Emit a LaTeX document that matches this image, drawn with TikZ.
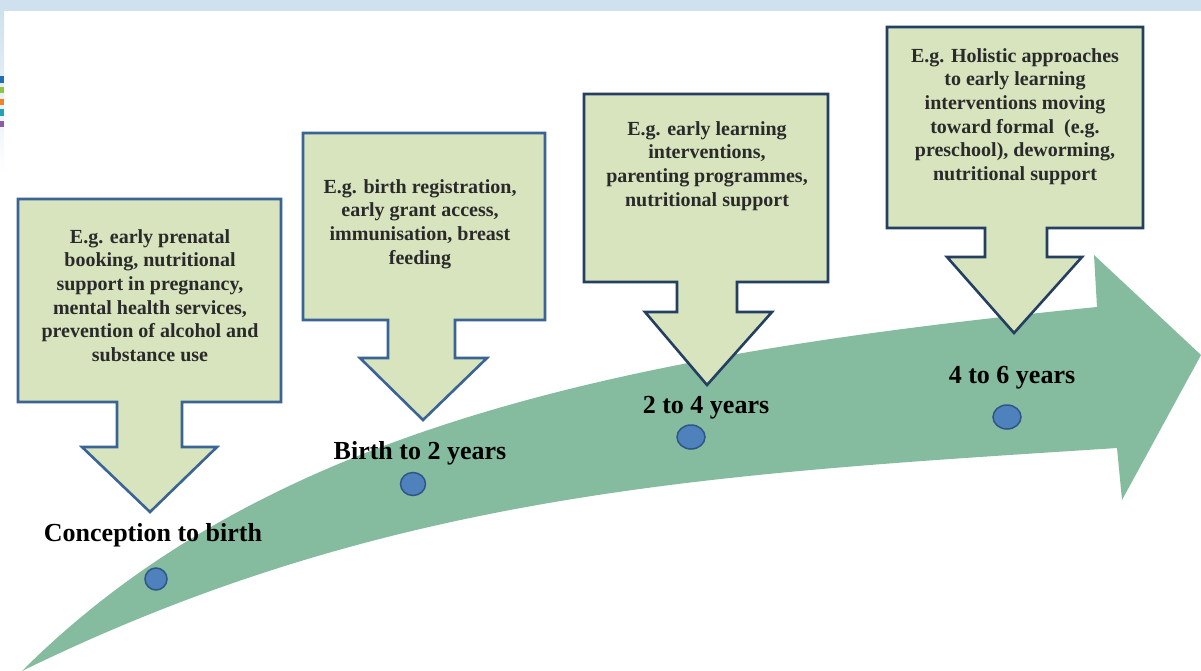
\documentclass[tikz,border=0pt]{standalone}
\usepackage{fontspec}
\setmainfont{Liberation Serif}
\definecolor{topband}{HTML}{CFE0EE}
\definecolor{boxfill}{HTML}{D7E4BD}
\definecolor{boxedge}{HTML}{3A6396}
\definecolor{boxedgedark}{HTML}{243F60}
\definecolor{arrowgreen}{HTML}{85BB9F}
\definecolor{dotfill}{HTML}{4F81BD}
\definecolor{dotedge}{HTML}{2E5686}
\definecolor{txtgray}{HTML}{2A2A2A}
\definecolor{barblue}{HTML}{1F6FB5}
\definecolor{bargreen}{HTML}{8DC63F}
\definecolor{barorange}{HTML}{F58220}
\definecolor{barteal}{HTML}{1FA3B8}
\definecolor{barpurple}{HTML}{8E5BA8}
\usetikzlibrary{shapes.geometric}
\tikzset{
  callout/.style={fill=boxfill, draw=boxedge, line width=2.6pt, line join=miter},
  calloutdark/.style={callout, draw=boxedgedark},
  boxtext/.style={anchor=north, inner sep=0pt, align=center, text=txtgray,
    font=\fontsize{20}{23.7}\selectfont\bfseries},
  agelabel/.style={anchor=base, inner sep=0pt, text=black,
    font=\fontsize{26}{30}\selectfont\bfseries},
  stagedot/.style={ellipse, fill=dotfill, draw=dotedge, line width=1.5pt, inner sep=0pt}
}
\begin{document}
\begin{tikzpicture}[x=1pt, y=-1pt]
\useasboundingbox (0,0) rectangle (1201,671);
\fill[white] (0,0) rectangle (1201,671);
% page decoration
\fill[topband] (0,0) rectangle (1201,11);
\shade[top color=topband, bottom color=white] (0,11) rectangle (4,175);
\fill[barblue] (0,76) rectangle (4,83);
\fill[bargreen] (0,87) rectangle (4,93);
\fill[barorange] (0,99) rectangle (4,105);
\fill[barteal] (0,109) rectangle (4,116);
\fill[barpurple] (0,121) rectangle (4,127);

% big green arrow
\fill[arrowgreen] (22,671) .. controls (272,421) and (647,352) .. (1097,307)
  -- (1094,255) -- (1201,355) -- (1122,500) -- (1117,448)
  .. controls (717,474) and (392,490) .. (22,671) -- cycle;

% callouts
\draw[callout] (18,199) -- (281,199) -- (281,402) -- (182,402) -- (182,447) -- (217,447) -- (150,512) -- (82,447) -- (117,447) -- (117,402) -- (18,402) -- cycle;
\draw[callout] (303,133) -- (545,133) -- (545,320) -- (455,320) -- (455,358) -- (487,358) -- (423,420) -- (360,358) -- (388,358) -- (388,320) -- (303,320) -- cycle;
\draw[calloutdark] (584,94) -- (828,94) -- (828,282) -- (737,282) -- (737,312) -- (772,312) -- (707,385) -- (645,312) -- (677,312) -- (677,282) -- (584,282) -- cycle;
\draw[calloutdark] (887,27) -- (1143,27) -- (1143,228) -- (1047,228) -- (1047,257) -- (1082,257) -- (1014,333) -- (947,257) -- (985,257) -- (985,228) -- (887,228) -- cycle;

% callout texts
\node[boxtext] (t1) at (150,229) {E.g. early prenatal\\booking, nutritional\\support in pregnancy,\\mental health services,\\prevention of alcohol and\\substance use};
\node[boxtext] (t2) at (420,179) {E.g. birth registration,\\early grant access,\\immunisation, breast\\feeding};
\node[boxtext] (t3) at (707,121) {E.g. early learning\\interventions,\\parenting programmes,\\nutritional support};
\node[boxtext] (t4) at (1015,48) {E.g. Holistic approaches\\to early learning\\interventions moving\\toward formal\ \ (e.g.\\preschool), deworming,\\nutritional support};

% stage labels
\node[agelabel] (l1) at (153,541) {Conception to birth};
\node[agelabel] (l2) at (420,459) {Birth to 2 years};
\node[agelabel] (l3) at (706,413) {2 to 4 years};
\node[agelabel] (l4) at (1012,383) {4 to 6 years};

% dots
\node[stagedot, minimum width=22pt, minimum height=22pt] (d1) at (156,579) {};
\node[stagedot, minimum width=25pt, minimum height=23pt] (d2) at (413,484) {};
\node[stagedot, minimum width=28pt, minimum height=24pt] (d3) at (691,437) {};
\node[stagedot, minimum width=28pt, minimum height=24pt] (d4) at (1007,417) {};
\end{tikzpicture}
\end{document}
